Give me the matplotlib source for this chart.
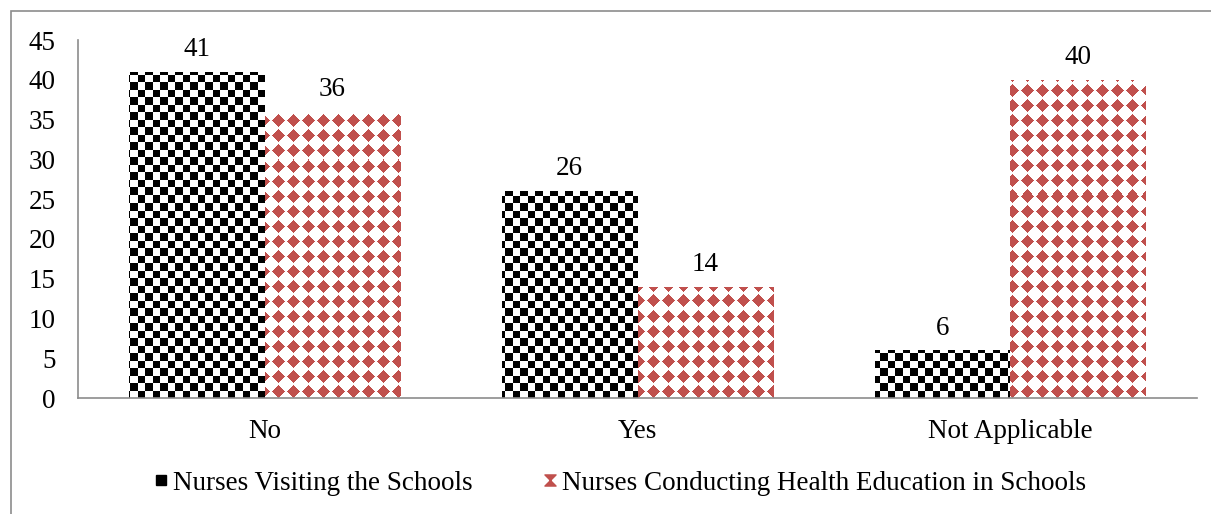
import numpy as np
import matplotlib
matplotlib.use("Agg")
import matplotlib.pyplot as plt
from matplotlib.patches import Rectangle
from matplotlib.lines import Line2D
from matplotlib.path import Path

categories = ["No", "Yes", "Not Applicable"]
visiting = [41, 26, 6]
educating = [36, 14, 40]
series_labels = ["Nurses Visiting the Schools",
                 "Nurses Conducting Health Education in Schools"]
yticks = [0, 5, 10, 15, 20, 25, 30, 35, 40, 45]

plt.rcParams['font.family'] = ['Liberation Serif', 'DejaVu Serif']
RED = "#C0504D"
FS = 19.5

W_PX, H_PX = 1211, 514
fig = plt.figure(figsize=(W_PX / 100, H_PX / 100), dpi=100)
ax_l, ax_r, ax_t, ax_b = 78, 1197, 40, 398
ax = fig.add_axes([ax_l / W_PX, 1 - ax_b / H_PX, (ax_r - ax_l) / W_PX, (ax_b - ax_t) / H_PX])

# figure border
fig.patches.append(Rectangle((11 / W_PX, -0.1), 1.2, 1 - 11 / H_PX + 0.1,
                             transform=fig.transFigure, fill=False,
                             edgecolor="#8c8c8c", linewidth=1.2))

x = np.arange(len(categories))
w = 0.363
ax.set_xlim(-0.5, len(categories) - 0.5)
ax.set_ylim(0, 45)

b1 = ax.bar(x - w / 2, visiting, w, facecolor="none", edgecolor="none")
b2 = ax.bar(x + w / 2, educating, w, facecolor="none", edgecolor="none")

# pattern images in axes pixel space
Wp, Hp = ax_r - ax_l, ax_b - ax_t
yy, xx = np.mgrid[0:Hp, 0:Wp].astype(float) + 0.5
s = 7.5
chk = ((np.floor(xx / s) + np.floor((Hp - yy) / s)) % 2) == 0
img1 = np.ones((Hp, Wp, 3))
img1[chk] = 0.0
p = 15.0
dx = np.abs(((xx + 3) % p) - p / 2)
dy = np.abs(((Hp - yy + 1) % p) - p / 2)
dia = (dx + dy) <= 6.6
rc = np.array(matplotlib.colors.to_rgb(RED))
img2 = np.ones((Hp, Wp, 3))
img2[dia] = rc

ext = (-0.5, len(categories) - 0.5, 0, 45)
for bars, img in ((b1, img1), (b2, img2)):
    for r in bars.patches:
        im = ax.imshow(img, extent=ext, origin="upper", aspect="auto",
                       interpolation="none", zorder=1)
        im.set_clip_path(r)

ax.set_xlim(-0.5, len(categories) - 0.5)
ax.set_ylim(0, 45)

for bars, vals in ((b1, visiting), (b2, educating)):
    for r, v in zip(bars.patches, vals):
        ax.annotate(str(v), (r.get_x() + r.get_width() / 2, v),
                    xytext=(0, 7), textcoords="offset points",
                    ha="center", va="bottom", fontsize=FS)

ax.set_yticks(yticks)
ax.set_xticks(x)
ax.set_xticklabels(categories)
ax.tick_params(axis="both", length=0, labelsize=FS)
ax.tick_params(axis="x", pad=15)
ax.tick_params(axis="y", pad=16)
for sp in ("top", "right"):
    ax.spines[sp].set_visible(False)
for sp in ("left", "bottom"):
    ax.spines[sp].set_color("#8c8c8c")
    ax.spines[sp].set_linewidth(1.2)

hourglass = Path([(-1, 1), (1, 1), (-1, -1), (1, -1), (-1, 1)],
                 [Path.MOVETO, Path.LINETO, Path.LINETO, Path.LINETO, Path.CLOSEPOLY])
handles = [
    Line2D([], [], linestyle="none", marker="s", markersize=7,
           markerfacecolor="black", markeredgecolor="black"),
    Line2D([], [], linestyle="none", marker=hourglass, markersize=8,
           markerfacecolor=RED, markeredgecolor=RED),
]
fig.legend(handles, series_labels, loc="center", bbox_to_anchor=(0.512, 0.06),
           ncol=2, frameon=False, fontsize=FS, handlelength=0.5,
           handletextpad=0.2, columnspacing=2.6)

fig.savefig("out.png", dpi=100)
